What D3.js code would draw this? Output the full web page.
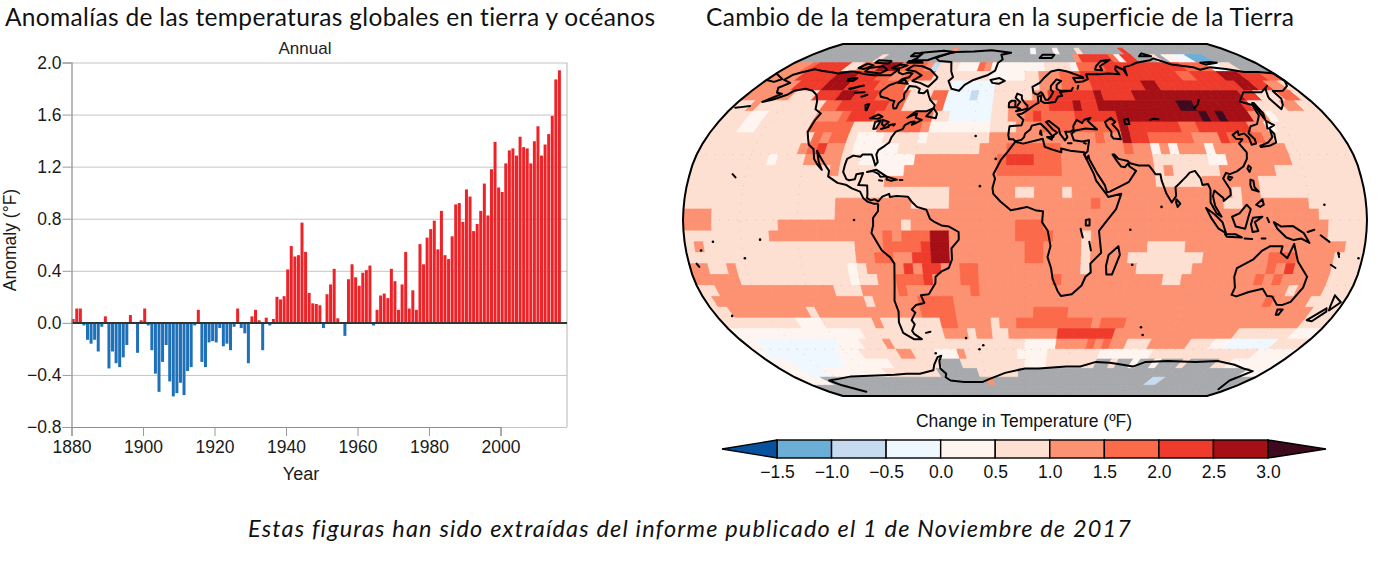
<!DOCTYPE html>
<html><head><meta charset="utf-8">
<script src="https://cdn.jsdelivr.net/npm/d3@7/dist/d3.min.js"></script>
<style>html,body{margin:0;padding:0;background:#fff}svg{display:block}</style>
</head><body><svg id="c" width="1379" height="570"></svg>
<script>
// ---------- text ----------
const titleLeft = "Anomalías de las temperaturas globales en tierra y océanos";
const titleRight = "Cambio de la temperatura en la superficie de la Tierra";
const footer = "Estas figuras han sido extraídas del informe publicado el 1 de Noviembre de 2017";
const legendTitle = "Change in Temperature (ºF)";

// ---------- annual anomaly bars ----------
const firstYear = 1880;
const anomalies = [
 .03,.11,.11,-.02,-.13,-.16,-.13,-.22,-.03,.05,
 -.35,-.22,-.31,-.34,-.265,-.17,.06,0,-.23,.02,
 .11,-.02,-.21,-.39,-.53,-.30,-.17,-.45,-.565,-.54,
 -.46,-.555,-.37,-.34,-.02,.10,-.30,-.34,-.15,-.14,
 -.15,-.04,-.18,-.16,-.21,-.03,.11,-.04,-.08,-.31,
 .05,.10,.02,-.21,.04,-.02,.03,.20,.18,.205,
 .41,.59,.51,.52,.77,.545,.23,.15,.145,.135,
 -.04,.22,.295,.415,.035,0,-.10,.335,.45,.35,
 .285,.385,.405,.44,-.02,.10,.21,.225,.19,.415,
 .32,.10,.295,.545,.11,.25,.10,.605,.45,.655,
 .72,.785,.565,.86,.52,.49,.665,.91,.92,.775,
 1.025,.97,.705,.76,.86,1.07,.825,1.18,1.39,1.04,
 1.005,1.225,1.325,1.34,1.285,1.43,1.35,1.34,1.225,1.395,
 1.51,1.285,1.37,1.45,1.59,1.87,1.94];
const yTicks = [2,1.6,1.2,.8,.4,0,-.4,-.8];
const xTicks = [1880,1900,1920,1940,1960,1980,2000];

// ---------- legend ----------
const thresholds = [-1.5,-1,-.5,0,.5,1,1.5,2,2.5,3];
const palette = ["#08519c","#6baed6","#c6dbef","#f0f8ff","#fff5f0","#fee0d2","#fc9272","#fb6a4a","#ef3b2c","#a50f15","#3f0a1e"];
const missingColor = "#a7a9ac";

// ---------- Robinson table (every 5 degrees) ----------
const robinsonLen = [1,.9986,.9954,.99,.9822,.973,.96,.9427,.9216,.8962,.8679,.835,.7986,.7597,.7186,.6732,.6213,.5722,.5322];
const robinsonLat = [0,.062,.124,.186,.248,.31,.372,.434,.4958,.5571,.6176,.6769,.7346,.7903,.8435,.8936,.9394,.9761,1];

// ---------- 5-degree anomaly field: each band lists [startLon, value, startLon, value, ...] ---------
const bandTops = d3.range(90,-90,-5);
const _ = null;
const bandRuns = [
 /* 90 */ [-180,_],
 /* 85 */ [-180,_,-65,1.25,-60,_,5,-.25,10,_,25,.25,30,_,45,.75,50,_,85,2.25,90,_],
 /* 80 */ [-180,_,-120,.75,-115,_,40,1.25,45,2.25,70,1.75,75,.25,80,2.25,90,_,105,.75,110,_,115,.25,125,-.25,135,-1.25,150,_],
 /* 75 */ [-180,1.25,-165,1.75,-160,2.25,-135,.75,-125,1.75,-110,2.75,-95,1.75,-75,1.25,-70,-.75,-65,.75,-50,.25,-35,1.75,-30,1.25,-25,.25,15,.75,35,.25,40,1.75,60,2.25,120,1.75,140,.25,145,-.25,150,.75,160,_],
 /* 70 */ [-180,1.25,-160,2.25,-135,2.75,-120,2.25,-105,1.75,-95,1.25,-85,1.75,-65,.75,-25,.25,0,.75,10,1.25,25,1.75,40,2.25,110,1.75,120,2.25,140,2.75,155,2.25,170,1.75],
 /* 65 */ [-180,1.25,-155,2.25,-135,2.75,-120,2.25,-100,1.75,-80,.75,-50,-.25,-20,.75,10,1.25,25,1.75,45,2.25,80,2.75,90,2.25,145,2.75,155,2.25,165,1.25,175,.75],
 /* 60 */ [-180,1.25,-150,.75,-135,2.25,-120,2.75,-110,2.25,-95,1.75,-75,.75,-60,1.75,-50,-.25,-35,-.75,-30,-.25,-20,.75,5,1.25,15,2.25,45,2.75,50,2.25,70,2.75,135,2.75,140,2.25,150,.75,165,1.75,175,.75],
 /* 55 */ [-180,.75,-170,1.25,-165,.75,-125,1.75,-115,2.25,-85,1.75,-75,.75,-55,1.75,-50,-.25,-20,.75,-10,1.25,0,1.75,15,2.25,30,2.75,35,2.25,45,2.75,95,3.25,105,2.75,135,2.25,140,.75,160,1.25,170,.75],
 /* 50 */ [-180,.75,-165,.25,-155,.75,-125,1.25,-110,1.75,-105,2.25,-90,1.75,-55,.75,-45,-.25,-20,.75,-10,1.25,0,1.75,5,2.25,10,1.75,30,2.25,55,2.75,105,3.25,110,2.75,115,3.25,120,2.75,135,1.25,145,.25,150,.75],
 /* 45 */ [-180,.75,-165,.25,-155,.75,-125,1.75,-100,.75,-85,1.75,-60,1.25,-55,.25,-20,.75,-5,1.25,10,1.75,55,2.75,60,2.25,90,1.75,100,2.25,130,1.25,140,.25,145,.75],
 /* 40 */ [-180,.75,-120,1.75,-115,1.25,-110,1.75,-100,.75,-95,.25,-80,.75,-60,.25,-55,.75,-20,1.25,40,1.75,45,1.25,55,2.75,60,2.25,70,1.75,95,1.25,110,2.25,115,1.75,135,1.25,140,.75],
 /* 35 */ [-180,.75,-125,1.25,-120,1.75,-115,2.25,-110,1.25,-100,.75,-95,.25,-70,.75,-25,1.25,-10,1.75,20,1.25,55,1.75,60,1.25,70,.25,75,1.25,80,.25,85,1.25,100,.25,105,1.25,145,.75],
 /* 30 */ [-180,.75,-140,.25,-135,.75,-120,1.25,-100,.75,-90,.25,-60,1.25,-15,1.75,-10,2.25,5,1.75,20,1.25,70,.75,100,.25,110,1.25,145,.75],
 /* 25 */ [-180,.75,-105,1.25,-100,.75,-80,.25,-65,1.25,-15,1.75,20,1.25,70,.75,75,1.25,80,.75,105,1.25,135,.75],
 /* 20 */ [-180,.75,-75,1.25,70,.75,95,1.25,125,.75],
 /* 15 */ [-180,.75,-40,1.25,-5,.75,5,1.25,20,.75,25,1.25,110,.75,115,1.25,125,.75],
 /* 10 */ [-180,.75,-100,1.25,-60,.75,-40,1.25,35,1.75,40,1.25,105,.75,115,1.25,150,.75],
 /*  5 */ [-180,1.25,-165,.75,-100,1.25,155,.75],
 /*  0 */ [-180,1.25,-165,.75,-130,1.25,-65,.75,-60,1.25,-5,1.75,10,1.25,160,.75],
 /* -5 */ [-180,.75,-135,1.25,-75,1.75,-70,1.25,-65,1.75,-50,2.75,-40,1.25,-5,1.75,15,1.25,30,.75,35,1.25,160,.75],
 /*-10 */ [-180,.75,-175,1.25,-170,.75,-90,1.25,-75,1.75,-55,2.25,-50,2.75,-40,1.25,0,1.75,10,1.25,30,.75,35,1.25,65,.75,85,1.25,170,.75],
 /*-15 */ [-180,.75,-90,1.25,-80,1.75,-70,1.25,-60,2.25,-50,2.75,-40,1.25,0,1.75,10,1.25,30,.75,35,1.25,55,.75,95,1.25,130,1.75,145,1.25,165,.75],
 /*-20 */ [-180,1.25,-170,.75,-160,1.25,-155,.75,-95,.25,-90,.75,-85,1.25,-65,2.25,-60,1.25,-55,2.25,-45,1.25,-35,1.75,-25,1.25,30,.75,35,1.25,60,.75,90,1.25,130,1.75,135,1.25,140,2.25,145,1.25,165,.75],
 /*-25 */ [-180,1.25,-155,.75,-95,.25,-90,.75,-80,1.25,-70,1.75,-55,2.25,-50,1.25,-35,1.75,-25,1.25,15,1.75,20,1.25,75,.75,85,1.25,125,1.75,130,1.25,135,1.75,140,1.25,165,.75],
 /*-30 */ [-180,.75,-170,1.25,-105,.75,-90,1.25,-70,1.75,-65,1.25,-30,1.75,-25,1.25,145,.75,150,1.25,165,.75],
 /*-35 */ [-180,.75,-175,1.25,-90,.75,-85,1.25,-60,1.75,-40,1.25,135,1.75,140,1.25,160,.75],
 /*-40 */ [-180,.75,-170,1.25,-125,.75,-120,1.25,-60,1.75,-40,1.25,5,1.75,25,1.25,165,.75],
 /*-45 */ [-180,.75,-135,.25,-120,.75,-90,1.25,-85,.75,-50,1.75,-40,1.25,-20,.75,-15,1.25,-5,1.75,40,1.25,45,1.75,60,1.25,165,.75],
 /*-50 */ [-180,.25,-100,.75,-50,1.25,-35,.75,-30,1.25,-20,.75,-10,1.25,20,2.25,55,1.25,130,.75,165,.25],
 /*-55 */ [-180,.25,-170,-.25,-120,.25,-105,.75,-90,1.25,-85,.75,0,.25,20,1.25,40,1.75,45,1.25,50,1.75,55,1.25,65,.75,80,1.25,105,.75,120,.25,130,-.25,160,.75],
 /*-60 */ [-180,.25,-175,-.25,-125,.25,-110,.75,-85,1.25,-75,.75,-60,.25,-45,1.25,-40,.75,-5,.25,15,.75,50,.25,85,.75,155,.25],
 /*-65 */ [-180,.25,-165,-.25,-130,.25,-95,.75,-60,_,-45,.75,0,.25,15,.75,50,_,60,.75,65,_,75,.25,80,_,90,.25,95,_,110,.75,115,_,135,.75,145,.25],
 /*-70 */ [-180,.25,-165,-.25,-150,.25,-105,.75,-65,_,-35,.75,-5,_,165,.25],
 /*-75 */ [-180,.25,-160,_,-30,1.25,-25,_,100,-.75,110,_],
 /*-80 */ [-180,_],
 /*-85 */ [-180,_]
];

// ---------- coastlines [lon,lat] ----------
const americas = [[-168,65.6],[-166.5,68.3],[-163,69.5],[-156.5,71.3],[-150,70.5],[-141,69.6],[-135,69],[-128,70],[-125,70],[-115,68.5],[-108,68],[-100,68],[-96,68],[-94,71.5],[-92,69.5],[-88,68.5],[-85,69.5],[-81.5,69],[-82,67],[-86,66],[-87,64.5],[-92,62.8],[-94.5,60],[-94.5,58.7],[-92.5,57],[-88,56.3],[-85,55.3],[-82.3,55],[-82,53],[-80.5,51.3],[-79,51.5],[-79,54],[-77,56],[-78.5,58.5],[-78,60.5],[-78,62.4],[-73,62],[-70,61],[-69.5,59],[-66,58.8],[-64.5,60.3],[-62,57.5],[-60,55.5],[-56,53],[-56,51.5],[-60,50],[-66,50],[-70,47],[-65,49],[-65,47],[-61,46],[-64,44.5],[-66,43.7],[-65,45.2],[-67,45],[-70,43.5],[-70.5,41.7],[-74,40.5],[-75.5,38],[-76,35.5],[-78,34],[-81,32],[-81.5,30],[-80,26.5],[-81,25],[-82.7,28],[-84,30],[-89,30],[-90,29],[-94,29.5],[-97,28],[-97.5,25],[-97.8,22],[-95.5,18.7],[-94,18.2],[-91,18.7],[-90.5,21],[-87,21.5],[-88,18],[-88.8,16],[-84,15.8],[-83.5,12],[-83.5,10],[-81.5,9],[-79.5,9.5],[-77.5,8.5],[-75.5,10.7],[-72,12],[-71.5,10.5],[-68,11],[-62,10.7],[-60,8.5],[-57,6],[-52,4.7],[-50,.5],[-48,-.7],[-44,-2.5],[-40,-3],[-35,-5.5],[-35,-9],[-39,-13],[-39,-18],[-41,-22],[-45,-23.5],[-48.5,-26],[-49,-29],[-53.5,-34],[-58,-34.5],[-57,-38],[-62,-39],[-65,-41],[-63.5,-42.5],[-67,-46],[-66,-48],[-69,-51],[-68.5,-52.5],[-65,-55],[-70,-55],[-75,-52],[-75,-47],[-73,-42],[-73.5,-37],[-71.5,-30],[-70,-20],[-72,-17],[-76,-14],[-81,-6],[-80,-2.5],[-80,1],[-77.5,4],[-77.5,7],[-78,7.5],[-80,7.5],[-83,8.3],[-85.5,10],[-87.5,13],[-92,14.5],[-95,16],[-100,17],[-105.5,20],[-105.5,22.5],[-109,26],[-112.5,29.5],[-114.7,31.7],[-112,26.5],[-109.5,23],[-112,25],[-115,28],[-117,32.5],[-120.5,34.5],[-122.5,37.5],[-124.3,40.3],[-124,46],[-123,49],[-128,51],[-131,55],[-135,58],[-140,60],[-146,61],[-152,60],[-154,58],[-160,55.5],[-165,54.5],[-158,58.5],[-162,59],[-165,61.5],[-161,64],[-168,65.6]];
const eurasia = [[-9,37],[-9.5,39],[-9,43],[-2,43.5],[-1,46],[-4.5,48.5],[-1.5,49],[1.5,50.5],[4,52],[7,53.5],[8.5,54],[8.2,57],[10.5,57.7],[10,55],[12,54],[14,54],[19,54.5],[21,57],[24,57.5],[23,59.3],[30,60],[23,60],[21,61],[21.5,63],[25,65],[22,65.8],[17.5,62.5],[17,60.5],[18.5,59.5],[16.5,57],[14.5,55.5],[13,55.5],[11.5,58.5],[10.5,59.3],[8,58],[5.5,59],[5,62],[10,64],[14,67],[19,70],[25,71],[31,70],[41,67],[41,66.5],[34,66.7],[35,64.3],[40,64.7],[44,66],[44,68.5],[54,68.5],[60,69],[68,68.5],[67,71],[69,73],[73,71],[73,68],[75,72.5],[81,73.5],[87,75],[100,76.5],[104.5,77.7],[113,74],[127,72.5],[130,71],[140,72.5],[150,71.5],[160,69.7],[170,69.8],[179.9,69],[179.9,65],[177,62.5],[170,60],[163,59.8],[163,56],[160,53],[156.7,51],[155.5,56],[156,57],[160,61],[163.5,62.5],[155,59.3],[143,59.3],[135,54.7],[141,53],[140,48],[135.5,44],[131,43],[127.5,39.8],[129.5,37],[129,35],[126.3,34.5],[126.5,37.7],[125,39.7],[121.5,39],[122,40.8],[118,39],[119,37.2],[122.5,37],[119.5,35],[122,31],[121,28],[118,24.5],[114,22.3],[110,21],[108,21.6],[106,19],[109,14],[109,11.5],[105,8.7],[105,10],[100.5,13.5],[99.5,11],[100.3,6.5],[103.5,1.5],[101,3],[98,8],[98.5,14],[97.5,16.5],[94.5,16],[94,19],[91.5,22.5],[88.5,21.7],[86.5,20],[82,16.5],[80,15],[80,11],[77.5,8],[75,12],[73,18],[72.7,21],[70,21],[69,22.5],[67,25],[61.5,25],[57,26],[56,27],[51,28],[49,30],[48,30],[50,27],[52,24.5],[54,24.2],[56,26],[56.5,24.5],[59.8,22.5],[55.5,17.5],[52,16],[45,13],[43.5,12.7],[42.5,16],[39,21],[35,28],[34.8,29.5],[33.5,28],[32.5,30],[34.5,31.5],[36,36.5],[32,36],[27.5,36.5],[26.5,39.5],[29,41],[35,42],[41.5,41.5],[38,44.5],[37,45.5],[39,47],[35,46],[33.5,44.5],[30.5,46],[28,43],[28,41.5],[26,40.5],[23,40.5],[24,38],[22.5,36.5],[20,39.5],[19.5,42],[14,45.5],[12.3,45],[16,41.5],[18.5,40],[16.5,39],[16,38],[12.5,41.5],[9,44.3],[4,43.3],[3,41.5],[0,39.5],[-.5,38],[-2,36.8],[-5.5,36],[-6.5,37],[-9,37]];
const africa = [[-5.5,35.8],[-1,35],[10,37.2],[11,33.5],[15,32.3],[20,31],[20,32.8],[25,31.7],[32.5,31],[32.5,30],[34,27],[37,21],[38,18],[43,12],[44,10.5],[51,12],[48,5],[42,-1.5],[39,-5],[40.5,-15],[35,-20],[35.5,-24],[32.8,-26],[31,-30],[26,-34],[20,-34.8],[18,-32.5],[15,-27],[14,-22],[12,-17],[13.5,-12],[12,-5],[9,-1],[9.5,4],[6,4.3],[1,6],[-4,5],[-7.5,4.5],[-13,8.5],[-16.8,12],[-17.3,14.7],[-16,19],[-17,21],[-13,27.7],[-9.8,31],[-5.5,35.8]];
const australia = [[114,-22],[122,-18],[126,-14],[130,-12],[136.5,-12],[136,-15],[140,-17.5],[142.5,-11],[146,-19],[153,-26],[153,-31],[150,-37.5],[146,-39],[143,-38.8],[138,-35],[135,-34.8],[131,-31.5],[124,-33],[118,-35],[115,-34.3],[115.5,-31],[113.5,-26],[114,-22]];
const greenland = [[-73,78],[-68,76],[-58,75.5],[-54,70],[-51,67],[-53,65],[-49,61],[-43.5,60],[-41,63],[-36,65.5],[-27,68],[-22,70.5],[-21,75],[-18,77],[-20,80],[-12,81.5],[-30,83.5],[-45,82.5],[-60,82],[-65,81],[-73,78]];
const antarctica = [[-146,-85],[-155,-80],[-158,-77],[-148,-76],[-135,-74.5],[-115,-74],[-100,-73.5],[-90,-73],[-80,-73],[-68,-71],[-65,-68],[-60,-64],[-57,-63.3],[-60,-66],[-62,-70],[-60,-73],[-62,-75],[-60,-77],[-50,-78],[-35,-78],[-28,-76],[-15,-72.5],[0,-70],[10,-70],[30,-69],[40,-69],[50,-66.5],[60,-67],[70,-68],[78,-69],[85,-66.5],[100,-66],[120,-66.5],[135,-66],[150,-68],[160,-70],[170,-71.5],[165,-77],[172,-83]];
const islands = [
 [[-62,66],[-65,62],[-72,64],[-78,65],[-74,68],[-80,70],[-88,71],[-85,73.5],[-78,73],[-70,71],[-62,67],[-62,66]],
 [[-117,70],[-105,69],[-102,71],[-108,73],[-117,72],[-117,70]],
 [[-125,72],[-120,71.5],[-116,73.5],[-122,74.5],[-125,72]],
 [[-90,76.5],[-78,76.5],[-72,79],[-62,82],[-72,83],[-90,81.5],[-88,78],[-90,76.5]],
 [[-92,75],[-80,75],[-82,76],[-92,76],[-92,75]],
 [[-117,75],[-106,74.5],[-106,76],[-117,76.5],[-117,75]],
 [[-100,72],[-95,71.5],[-90,73.5],[-96,74],[-100,72]],
 [[-95,79],[-88,79],[-88,81],[-95,81],[-95,79]],
 [[-87,64],[-80,63.5],[-84,65.8],[-87,64]],
 [[-59,47.7],[-53,46.7],[-53,49],[-56,51.5],[-59,47.7]],
 [[-24,65.5],[-18,66.5],[-14,65],[-18,63.5],[-22.5,64],[-24,65.5]],
 [[-10,52],[-6,52],[-6,55],[-8.5,55],[-10,54],[-10,52]],
 [[-5.5,50],[1.5,51.2],[1.5,52.8],[-.2,54],[-2,56],[-2,57.7],[-5,58.6],[-6,56.5],[-3,54.5],[-4.5,53],[-5,51.8],[-3,51.3],[-5.5,50]],
 [[49.5,-12],[50.5,-16],[47,-25],[44,-25],[43.5,-21],[44.5,-16],[49.5,-12]],
 [[145,-41],[148,-41],[147.5,-43.5],[146,-43.5],[145,-41]],
 [[172.7,-34.5],[178.5,-37.7],[175,-41.5],[174,-39.5],[172.7,-34.5]],
 [[172.7,-40.5],[174,-42],[170,-46.5],[166.5,-46],[172.7,-40.5]],
 [[131,-1],[135,-3],[141,-2.7],[147,-6],[150.5,-10.5],[146,-8.5],[142,-9.2],[138,-8],[133,-4],[131,-1]],
 [[109,1.5],[113,3],[117,7],[119,5],[117.5,1],[116,-4],[111,-3],[109,1.5]],
 [[95.5,5.5],[100,2.5],[104,-1],[106,-6],[102,-4],[98,1],[95.5,5.5]],
 [[105.5,-6.5],[111,-6.5],[114.5,-8],[106.5,-7.7],[105.5,-6.5]],
 [[120,1],[125,1.5],[121,-1],[123,-5],[120,-5.5],[119,-2],[120,1]],
 [[120.5,18.5],[122,18],[122,15],[124,13],[120.5,14],[120,16],[120.5,18.5]],
 [[122,7],[125.5,9.5],[126,7],[124,6],[122,7]],
 [[121,25],[122,24],[120.8,22],[120,23.5],[121,25]],
 [[109,20],[111,19.5],[109.5,18.2],[108.7,19],[109,20]],
 [[80,9.5],[82,7.5],[80.5,6],[79.8,8],[80,9.5]],
 [[130.9,34],[136,35.5],[140,38],[141,41.5],[142,39.5],[140.5,35.5],[136,34],[131,33.5],[130.9,34]],
 [[140,42],[142,45.5],[145,43.5],[141,42],[140,42]],
 [[142,46],[143.5,49],[143,54],[142,54],[142,46]],
 [[-85,22],[-80,23],[-74.3,20],[-77.5,19.8],[-78.5,21],[-82,22.5],[-85,22]],
 [[-74,19.8],[-68.5,18.5],[-71.5,18],[-74,18.5],[-74,19.8]],
 [[52,71],[57,70.7],[57,73],[68,76.8],[60,76],[54,73],[52,71]],
 [[95,79],[105,79],[100,81],[95,79]],
 [[12,78],[22,78],[25,80],[15,80],[12,78]],
 [[137,75],[145,75.5],[150,75],[140,74],[137,75]],
 [[-180,69],[-170,66],[-173,64.5],[-180,65.5]],
 [[-61,-52],[-58,-51.5]],
 [[164,-20.5],[167,-22]],
 [[-157,21],[-155,19.5]],
 [[-78,18.2],[-76.3,18]],
 [[-67,18.3],[-65.5,18.3]],
 [[-176,-20],[-175,-21.5]],
 [[166.5,-15],[167.5,-17]],
 [[156,-7],[161,-10]],
 [[149,-5.5],[152.5,-4.5]],
 [[125,-8.5],[127,-8.5]],
 [[116,-8.5],[120,-8.7]],
 [[127.5,1],[128.5,-1]],
 [[-170,52.5],[-175,52],[-178,51.7]],
 [[9,41],[9.5,39],[8.5,39.5],[9,41]],
 [[12.5,38],[15.5,38],[15,36.8],[12.5,38]],
 [[24,35.2],[26,35.2]],
 [[33,35.3],[34,35]]
];
const lakes = [
 [[-92,46.7],[-88,48.5],[-85,47.5],[-87,46.5],[-92,46.7]],
 [[-87.5,41.7],[-88,45],[-85,45.8],[-86,42],[-87.5,41.7]],
 [[-84,46],[-80,45],[-82,43],[-83.5,44],[-84,46]],
 [[-83,41.7],[-79,42.8]],[[-79.5,43.5],[-76,44],[-76.5,43.3]],
 [[-124,66],[-118,66.5],[-119,65],[-123,65],[-124,66]],
 [[-117,61],[-109,62.7],[-112,62],[-116,60.8]],
 [[-111,59],[-105,59.3]],[[-105,57],[-102,58]],
 [[-99,53],[-97,53.5],[-96.5,50.5],[-97,50.5],[-99,53]],
 [[47,45],[51,47],[53,45],[51,44],[53.5,41],[54,37],[50,37.3],[49,38.5],[49.5,40.5],[47.5,43],[47,45]],
 [[58.5,46],[61,46.5],[61,44],[58.5,44],[58.5,46]],
 [[104,51.6],[107,53],[110,55.5]],
 [[74,46],[76,46.5],[79,46.3]],
 [[30.5,60],[32,61.5]],[[35,61],[36,62.5]],
 [[32,0],[34,.3],[34,-2.5],[32,-2.5],[32,0]],
 [[29.3,-4],[30.5,-8]],[[34,-10],[35,-14]]
];
const dots = [[-172,-14],[-149.5,-17.5],[178,-17.5],[70,-49.3],[-37,-54.5],[-16,28],[-24,15.5],[-28,38.5],[-140,-9],[-171,-44],[167,-15.5],[57.5,-20.5],[55.5,-4.5],[72,6],[-60,-62],[-30,-60],[-27,-58],[73,-53],[158,7],[-90,0],[-165,-10]];
const graticuleLats = [-60,-30,0,30,60];
const graticuleLons = [-150,-120,-90,-60,-30,0,30,60,90,120,150];

// ---------- drawing ----------
const svg = d3.select("#c");
const SANS = "'Liberation Sans',Arial,sans-serif";
const TITLE = "Lato,'Open Sans',sans-serif";

function head(txt,x,y,len,size,italic){
  svg.append("text").attr("x",x).attr("y",y).attr("textLength",len).attr("lengthAdjust","spacing")
   .attr("font-family",TITLE).attr("font-size",size).attr("fill","#111").attr("font-style",italic?"italic":"normal")
   .style("font-variant-ligatures","none").text(txt);
}
head(titleLeft,5,26,650,24.5);
head(titleRight,706,26,588,24.5);
head(footer,248,537,883,23.5,true);

// --- bars
const x = d3.scaleLinear([1880,2000],[71.5,500.5]);
const y = d3.scaleLinear([-.8,2],[427,62.5]);
const g = svg.append("g").attr("font-family",SANS);
g.append("text").attr("x",305).attr("y",54).attr("text-anchor","middle").attr("font-size",17).attr("fill","#222").text("Annual");

g.selectAll("line.grid").data(yTicks).join("line").attr("class","grid")
 .attr("x1",x(1880)).attr("x2",567).attr("y1",d=>y(d)+.5).attr("y2",d=>y(d)+.5).attr("stroke","#c4c4c4").attr("stroke-width",1);
g.append("line").attr("x1",567).attr("x2",567).attr("y1",y(2)).attr("y2",y(-.8)).attr("stroke","#b5b5b5");

g.selectAll("rect.bar").data(anomalies).join("rect").attr("class","bar")
 .attr("x",(d,i)=>x(firstYear+i)+.2).attr("width",3)
 .attr("y",d=>y(Math.max(d,0))).attr("height",d=>Math.abs(y(d)-y(0)))
 .attr("fill",d=>d>=0?"#ed2328":"#1e70b8");
g.append("line").attr("x1",x(1880)).attr("x2",567).attr("y1",y(0)+.2).attr("y2",y(0)+.2).attr("stroke","#333").attr("stroke-width",2);

const axL = g.append("g").attr("transform",`translate(${x(1880)},0)`)
 .call(d3.axisLeft(y).tickValues(yTicks).tickSize(9).tickPadding(1).tickFormat(d=>d3.format(".1f")(d).replace("-","\u2212")));
const axB = g.append("g").attr("transform",`translate(0,${y(-.8)})`)
 .call(d3.axisBottom(x).tickValues(xTicks).tickSize(9).tickPadding(5).tickFormat(d3.format("d")));
for(const a of [axL,axB]){
  a.selectAll("path.domain").attr("stroke","#8c8c8c").attr("stroke-width",1.2);
  a.selectAll("line").attr("stroke","#9a9a9a");
  a.selectAll("text").attr("font-family",SANS).attr("font-size",17.5).attr("fill","#1a1a1a");
}
g.append("text").attr("x",301).attr("y",480).attr("text-anchor","middle").attr("font-size",18).attr("fill","#1a1a1a").text("Year");
g.append("text").attr("transform","translate(16,240) rotate(-90)").attr("text-anchor","middle").attr("font-size",17.5).attr("fill","#1a1a1a").text("Anomaly (°F)");

// --- Robinson projection through d3.geoProjection
function tableAt(t,phi){
  const a = Math.min(Math.abs(phi)*180/Math.PI/5,17.9999), i = Math.floor(a), f = a-i;
  return t[i]+(t[i+1]-t[i])*f;
}
const aspect = 342/176;
function robinsonRaw(l,p){
  return [aspect*tableAt(robinsonLen,p)*l/Math.PI, (p<0?-1:1)*tableAt(robinsonLat,p)];
}
const proj = d3.geoProjection(robinsonRaw).scale(176).translate([1025,220]).precision(.1);
const line = d3.line();
const color = d3.scaleThreshold(thresholds,palette);

const map = svg.append("g");
const cells = [];
bandRuns.forEach((runs,b)=>{
  const top = bandTops[b];
  for(let k=0;k<runs.length;k+=2){
    const next = k+2<runs.length?runs[k+2]:180;
    for(let lon=runs[k];lon<next;lon+=5) cells.push({lon,top,v:runs[k+1]});
  }
});
const edge = v=>Math.max(-179.999,Math.min(179.999,v));
const cellPath = c=>line([[edge(c.lon),c.top],[edge(c.lon+5),c.top],[edge(c.lon+5),c.top-5],[edge(c.lon),c.top-5]].map(proj))+"Z";
map.selectAll("path.cell").data(cells).join("path").attr("class","cell")
 .attr("d",cellPath)
 .attr("fill",d=>d.v===null?missingColor:color(d.v))
 .attr("stroke",d=>d.v===null?missingColor:color(d.v)).attr("stroke-width",.8);

// faint dotted graticule
const lonSteps = d3.range(-180,180.1,10).map(edge), latSteps = d3.range(-90,90.1,10);
const gratLines = [
  ...graticuleLats.map(la=>lonSteps.map(lo=>[lo,la])),
  ...graticuleLons.map(lo=>latSteps.map(la=>[lo,la]))
];
map.selectAll("path.grat").data(gratLines).join("path").attr("class","grat")
 .attr("d",d=>line(d.map(proj))).attr("fill","none").attr("stroke","#8a8a8a").attr("stroke-width",.6)
 .attr("stroke-dasharray","1 8").attr("opacity",.55);

const coast = [americas,eurasia,africa,australia,greenland,antarctica,...islands,...lakes];
map.selectAll("path.coast").data(coast).join("path").attr("class","coast")
 .attr("d",d=>line(d.map(proj))).attr("fill","none").attr("stroke","#000").attr("stroke-width",2).attr("stroke-linejoin","round").attr("stroke-linecap","round");
map.selectAll("circle.dot").data(dots).join("circle").attr("class","dot")
 .attr("transform",d=>`translate(${proj(d)})`).attr("r",1.3).attr("fill","#000");

// map border
const lats = d3.range(-90,90.01,5);
const border = [...lats.map(l=>[-179.999,l]),...lats.slice().reverse().map(l=>[179.999,l])];
map.append("path").attr("d",line(border.map(proj))+"Z").attr("fill","none").attr("stroke","#000").attr("stroke-width",2);

// --- legend
const lx = d3.scaleLinear([-1.5,3],[777,1268]);
const ly0 = 440, ly1 = 458;
const lg = svg.append("g").attr("font-family",SANS);
lg.append("text").attr("x",1024).attr("y",427).attr("text-anchor","middle").attr("font-size",17.5).attr("fill","#111").text(legendTitle);
d3.pairs(thresholds).forEach(([a,b])=>{
  lg.append("rect").attr("x",lx(a)).attr("y",ly0).attr("width",lx(b)-lx(a)).attr("height",ly1-ly0)
   .attr("fill",color(a)).attr("stroke","#000").attr("stroke-width",1.4);
});
const ym = (ly0+ly1)/2;
lg.append("path").attr("d",line([[lx(-1.5),ly0],[722,ym],[lx(-1.5),ly1]])+"Z").attr("fill",palette[0]).attr("stroke","#000").attr("stroke-width",1.4);
lg.append("path").attr("d",line([[lx(3),ly0],[1326,ym],[lx(3),ly1]])+"Z").attr("fill",palette[10]).attr("stroke","#000").attr("stroke-width",1.4);
const axLeg = lg.append("g").attr("transform",`translate(0,${ly1})`)
 .call(d3.axisBottom(lx).tickValues(thresholds).tickSize(0).tickPadding(8).tickFormat(d=>d3.format(".1f")(d).replace("-","\u2212")));
axLeg.select("path.domain").remove();
axLeg.selectAll("text").attr("font-family",SANS).attr("font-size",17.5).attr("fill","#111");
</script></body></html>
